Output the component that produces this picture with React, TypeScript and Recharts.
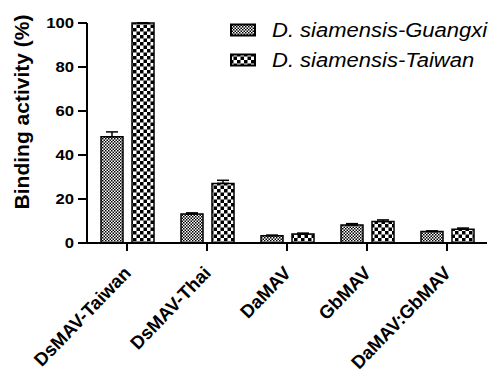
import React from 'react'
import { BarChart, Bar, XAxis, YAxis, ErrorBar } from 'recharts'

const categories = ['DsMAV-Taiwan', 'DsMAV-Thai', 'DaMAV', 'GbMAV', 'DaMAV:GbMAV']
const guangxi = [48.3, 13.2, 3.3, 8.2, 5.2]
const taiwan = [100, 27.1, 4.1, 9.8, 6.3]
const guangxiErr = [2.2, 0.5, 0.3, 0.6, 0.3]
const taiwanErr = [0, 1.4, 0.4, 0.7, 0.5]
const yTicks = [0, 20, 40, 60, 80, 100]
const seriesNames = ['D. siamensis-Guangxi', 'D. siamensis-Taiwan']

const data = categories.map((name, i) => ({
  name,
  guangxi: guangxi[i],
  taiwan: taiwan[i],
  gErr: [0, guangxiErr[i]],
  tErr: [0, taiwanErr[i]],
}))

const font = 'Arial, "Liberation Sans", Helvetica, sans-serif'
// the original figure is a bit wider than tall, so texts get stretched sideways
const stretch = 1.15

function PatternDefs({ prefix }: { prefix: string }) {
  return (
    <defs>
      <pattern id={prefix + 'fine'} patternUnits="userSpaceOnUse" width={3} height={3}>
        <rect width={3} height={3} fill="#fff" />
        <rect x={0} y={0} width={1.5} height={1.5} fill="#000" />
        <rect x={1.5} y={1.5} width={1.5} height={1.5} fill="#000" />
      </pattern>
      <pattern id={prefix + 'coarse'} patternUnits="userSpaceOnUse" width={7} height={7}>
        <rect width={7} height={7} fill="#fff" />
        <rect x={0} y={0} width={3.5} height={3.5} fill="#000" />
        <rect x={3.5} y={3.5} width={3.5} height={3.5} fill="#000" />
      </pattern>
    </defs>
  )
}

const XTick = (props: any) => {
  const { x, y, payload } = props
  const ax = x + 5
  const ay = y + 21
  return (
    <text
      transform={`translate(${ax}, ${ay}) rotate(-46)`}
      textAnchor="end"
      fontFamily={font}
      fontWeight="bold"
      fontSize={18.5}
      fill="#000"
    >
      {payload.value}
    </text>
  )
}

const YTick = (props: any) => {
  const { x, y, payload } = props
  return (
    <text
      transform={`translate(${x}, ${y}) scale(${stretch}, 1)`}
      dy="0.36em"
      textAnchor="end"
      fontFamily={font}
      fontWeight="bold"
      fontSize={14.5}
      fill="#000"
    >
      {payload.value}
    </text>
  )
}

const YTitle = () => (
  <text
    x={29}
    y={112}
    transform="rotate(-90, 29, 112)"
    textAnchor="middle"
    fontFamily={font}
    fontWeight="bold"
    fontSize={21}
    fill="#000"
  >
    Binding activity (%)
  </text>
)

function Legend() {
  const ids = ['lgfine', 'lgcoarse']
  return (
    <div style={{ position: 'absolute', left: 230, top: 15, fontFamily: font }}>
      {seriesNames.map((s, i) => (
        <div key={s} style={{ display: 'flex', alignItems: 'center', height: 30 }}>
          <svg width={27} height={14}>
            <PatternDefs prefix="lg" />
            <rect x={1} y={1.5} width={24} height={11} fill={`url(#${ids[i]})`} stroke="#000" strokeWidth={2} />
          </svg>
          <span
            style={{
              marginLeft: 15,
              fontSize: 20,
              fontStyle: 'italic',
              display: 'inline-block',
              transform: 'scaleX(1.1)',
              transformOrigin: 'left center',
              whiteSpace: 'nowrap',
            }}
          >
            {s}
          </span>
        </div>
      ))}
    </div>
  )
}

export default function App() {
  return (
    <div style={{ position: 'absolute', left: 0, top: 0, width: 491, height: 374, background: '#fff' }}>
      <BarChart
        width={491}
        height={374}
        data={data}
        margin={{ top: 23, right: 4, left: 27, bottom: 31 }}
        barSize={22}
        barGap={9}
      >
        <PatternDefs prefix="ch" />
        <XAxis
          dataKey="name"
          height={100}
          interval={0}
          tick={<XTick />}
          tickSize={8}
          axisLine={{ stroke: '#000', strokeWidth: 2 }}
          tickLine={{ stroke: '#000', strokeWidth: 2 }}
        />
        <YAxis
          width={60}
          domain={[0, 100]}
          ticks={yTicks}
          tick={<YTick />}
          tickSize={9}
          tickMargin={4}
          axisLine={{ stroke: '#000', strokeWidth: 2 }}
          tickLine={{ stroke: '#000', strokeWidth: 2 }}
          label={{ content: () => <YTitle /> }}
        />
        <Bar dataKey="guangxi" fill="url(#chfine)" stroke="#000" strokeWidth={1.5} isAnimationActive={false}>
          <ErrorBar dataKey="gErr" width={6} stroke="#000" strokeWidth={1.5} direction="y" />
        </Bar>
        <Bar dataKey="taiwan" fill="url(#chcoarse)" stroke="#000" strokeWidth={1.5} isAnimationActive={false}>
          <ErrorBar dataKey="tErr" width={6} stroke="#000" strokeWidth={1.5} direction="y" />
        </Bar>
      </BarChart>
      <Legend />
    </div>
  )
}
